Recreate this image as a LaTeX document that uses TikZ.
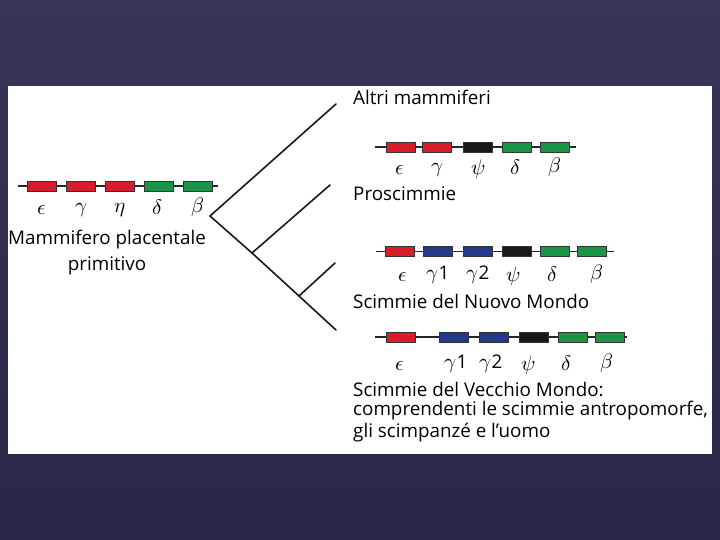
\documentclass[tikz,border=0pt]{standalone}
\usepackage{fontspec}
\setmainfont{Open Sans}
\usepackage{unicode-math}
\setmathfont{Latin Modern Math}
\begin{document}
\begin{tikzpicture}[x=1pt,y=-1pt,
  gline/.style={line width=1.3pt,black!85},
  gbox/.style={draw=black!80,line width=0.6pt,minimum width=29pt,minimum height=10pt,inner sep=0pt},
  rbox/.style={gbox,fill=gred},
  bbox/.style={gbox,fill=gblue},
  kbox/.style={gbox,fill=gblack},
  vbox/.style={gbox,fill=ggreen},
  glab/.style={font=\fontsize{21}{21}\selectfont,inner sep=0pt},
  txt/.style={font=\fontsize{18.8}{21}\selectfont,inner sep=0pt,anchor=west},
  branch/.style={line width=1.6pt,black!90,line cap=round}]
\definecolor{gred}{RGB}{214,30,42}
\definecolor{gblue}{RGB}{36,56,140}
\definecolor{ggreen}{RGB}{24,150,70}
\definecolor{gblack}{RGB}{25,25,25}
\definecolor{bgtop}{RGB}{56,54,86}
\definecolor{bgbot}{RGB}{38,38,72}
\newcommand{\gnum}[1]{\fontsize{18.8}{19}\selectfont #1}
\useasboundingbox (0,0) rectangle (720,540);
\shade[top color=bgtop,bottom color=bgbot] (0,0) rectangle (720,540);
\fill[white] (8,86) rectangle (712,454);

% ---- Row 1 (left)
\coordinate (r1s) at (18,186); \coordinate (r1e) at (218,186);
\draw[gline] (r1s) -- (r1e);
\node[rbox] (a1) at (42,186) {}; \node[rbox] (a2) at (81,186) {};
\node[rbox] (a3) at (120,186) {}; \node[vbox] (a4) at (158.5,186) {};
\node[vbox] (a5) at (198,186) {};
\node[glab] (la1) at (42,210) {$\epsilon$};
\node[glab] (la2) at (81,210) {$\gamma$};
\node[glab] (la3) at (120,210) {$\eta$};
\node[glab] (la4) at (158,207) {$\delta$};
\node[glab] (la5) at (198,207) {$\beta$};
\node[txt,anchor=center] (t1) at (107,240) {Mammifero placentale};
\node[txt,anchor=center] (t1b) at (107,266) {primitivo};

% ---- Tree
\coordinate (root) at (210,216);
\coordinate (top) at (336,104);
\coordinate (bot) at (336,330);
\coordinate (n1) at (252,253);
\coordinate (n1e) at (330,185);
\coordinate (n2) at (299,296);
\coordinate (n2e) at (335,263);
\draw[branch] (top) -- (root) -- (n1) -- (n2) -- (bot);
\draw[branch] (n1) -- (n1e);
\draw[branch] (n2) -- (n2e);

% ---- Altri mammiferi
\node[txt] (t2) at (353,97) {Altri mammiferi};
\coordinate (r2s) at (375,147); \coordinate (r2e) at (576,147);
\draw[gline] (r2s) -- (r2e);
\node[rbox] (b1) at (400.5,147) {}; \node[rbox] (b2) at (437,147) {};
\node[kbox] (b3) at (478,147) {}; \node[vbox] (b4) at (516.5,147) {};
\node[vbox] (b5) at (555,147) {};
\node[glab] (lb1) at (400,170) {$\epsilon$};
\node[glab] (lb2) at (437,170) {$\gamma$};
\node[glab] (lb3) at (478,169) {$\psi$};
\node[glab] (lb4) at (516,167) {$\delta$};
\node[glab] (lb5) at (555,167) {$\beta$};
\node[txt] (t3) at (353,194) {Proscimmie};

% ---- Nuovo Mondo
\coordinate (r3s) at (376,251.5); \coordinate (r3e) at (614,251.5);
\draw[gline] (r3s) -- (r3e);
\node[rbox] (c1) at (400,251.5) {}; \node[bbox] (c2) at (437.5,251.5) {};
\node[bbox] (c3) at (478,251.5) {}; \node[kbox] (c4) at (516.5,251.5) {};
\node[vbox] (c5) at (555,251.5) {}; \node[vbox] (c6) at (592,251.5) {};
\node[glab] (lc1) at (403,277) {$\epsilon$};
\node[glab] (lc2) at (438,275) {$\gamma$\gnum{1}};
\node[glab] (lc3) at (478,275) {$\gamma$\gnum{2}};
\node[glab] (lc4) at (513,276) {$\psi$};
\node[glab] (lc5) at (553,274) {$\delta$};
\node[glab] (lc6) at (597,274) {$\beta$};
\node[txt] (t4) at (353,301) {Scimmie del Nuovo Mondo};

% ---- Vecchio Mondo
\coordinate (r4s) at (375,337); \coordinate (r4e) at (627,337);
\draw[gline] (r4s) -- (r4e);
\node[rbox] (d1) at (400.5,337) {}; \node[bbox] (d2) at (454,337) {};
\node[bbox] (d3) at (493.5,337) {}; \node[kbox] (d4) at (534,337) {};
\node[vbox] (d5) at (572.5,337) {}; \node[vbox] (d6) at (609.5,337) {};
\node[glab] (ld1) at (400,366) {$\epsilon$};
\node[glab] (ld2) at (456,364) {$\gamma$\gnum{1}};
\node[glab] (ld3) at (491,364) {$\gamma$\gnum{2}};
\node[glab] (ld4) at (528,365) {$\psi$};
\node[glab] (ld5) at (567,363) {$\delta$};
\node[glab] (ld6) at (607,363) {$\beta$};
\node[txt] (t5) at (353,389) {Scimmie del Vecchio Mondo:};
\node[txt] (t6) at (353,411) {comprendenti le scimmie antropomorfe,};
\node[txt] (t7) at (353,433) {gli scimpanzé e l’uomo};
\end{tikzpicture}
\end{document}
